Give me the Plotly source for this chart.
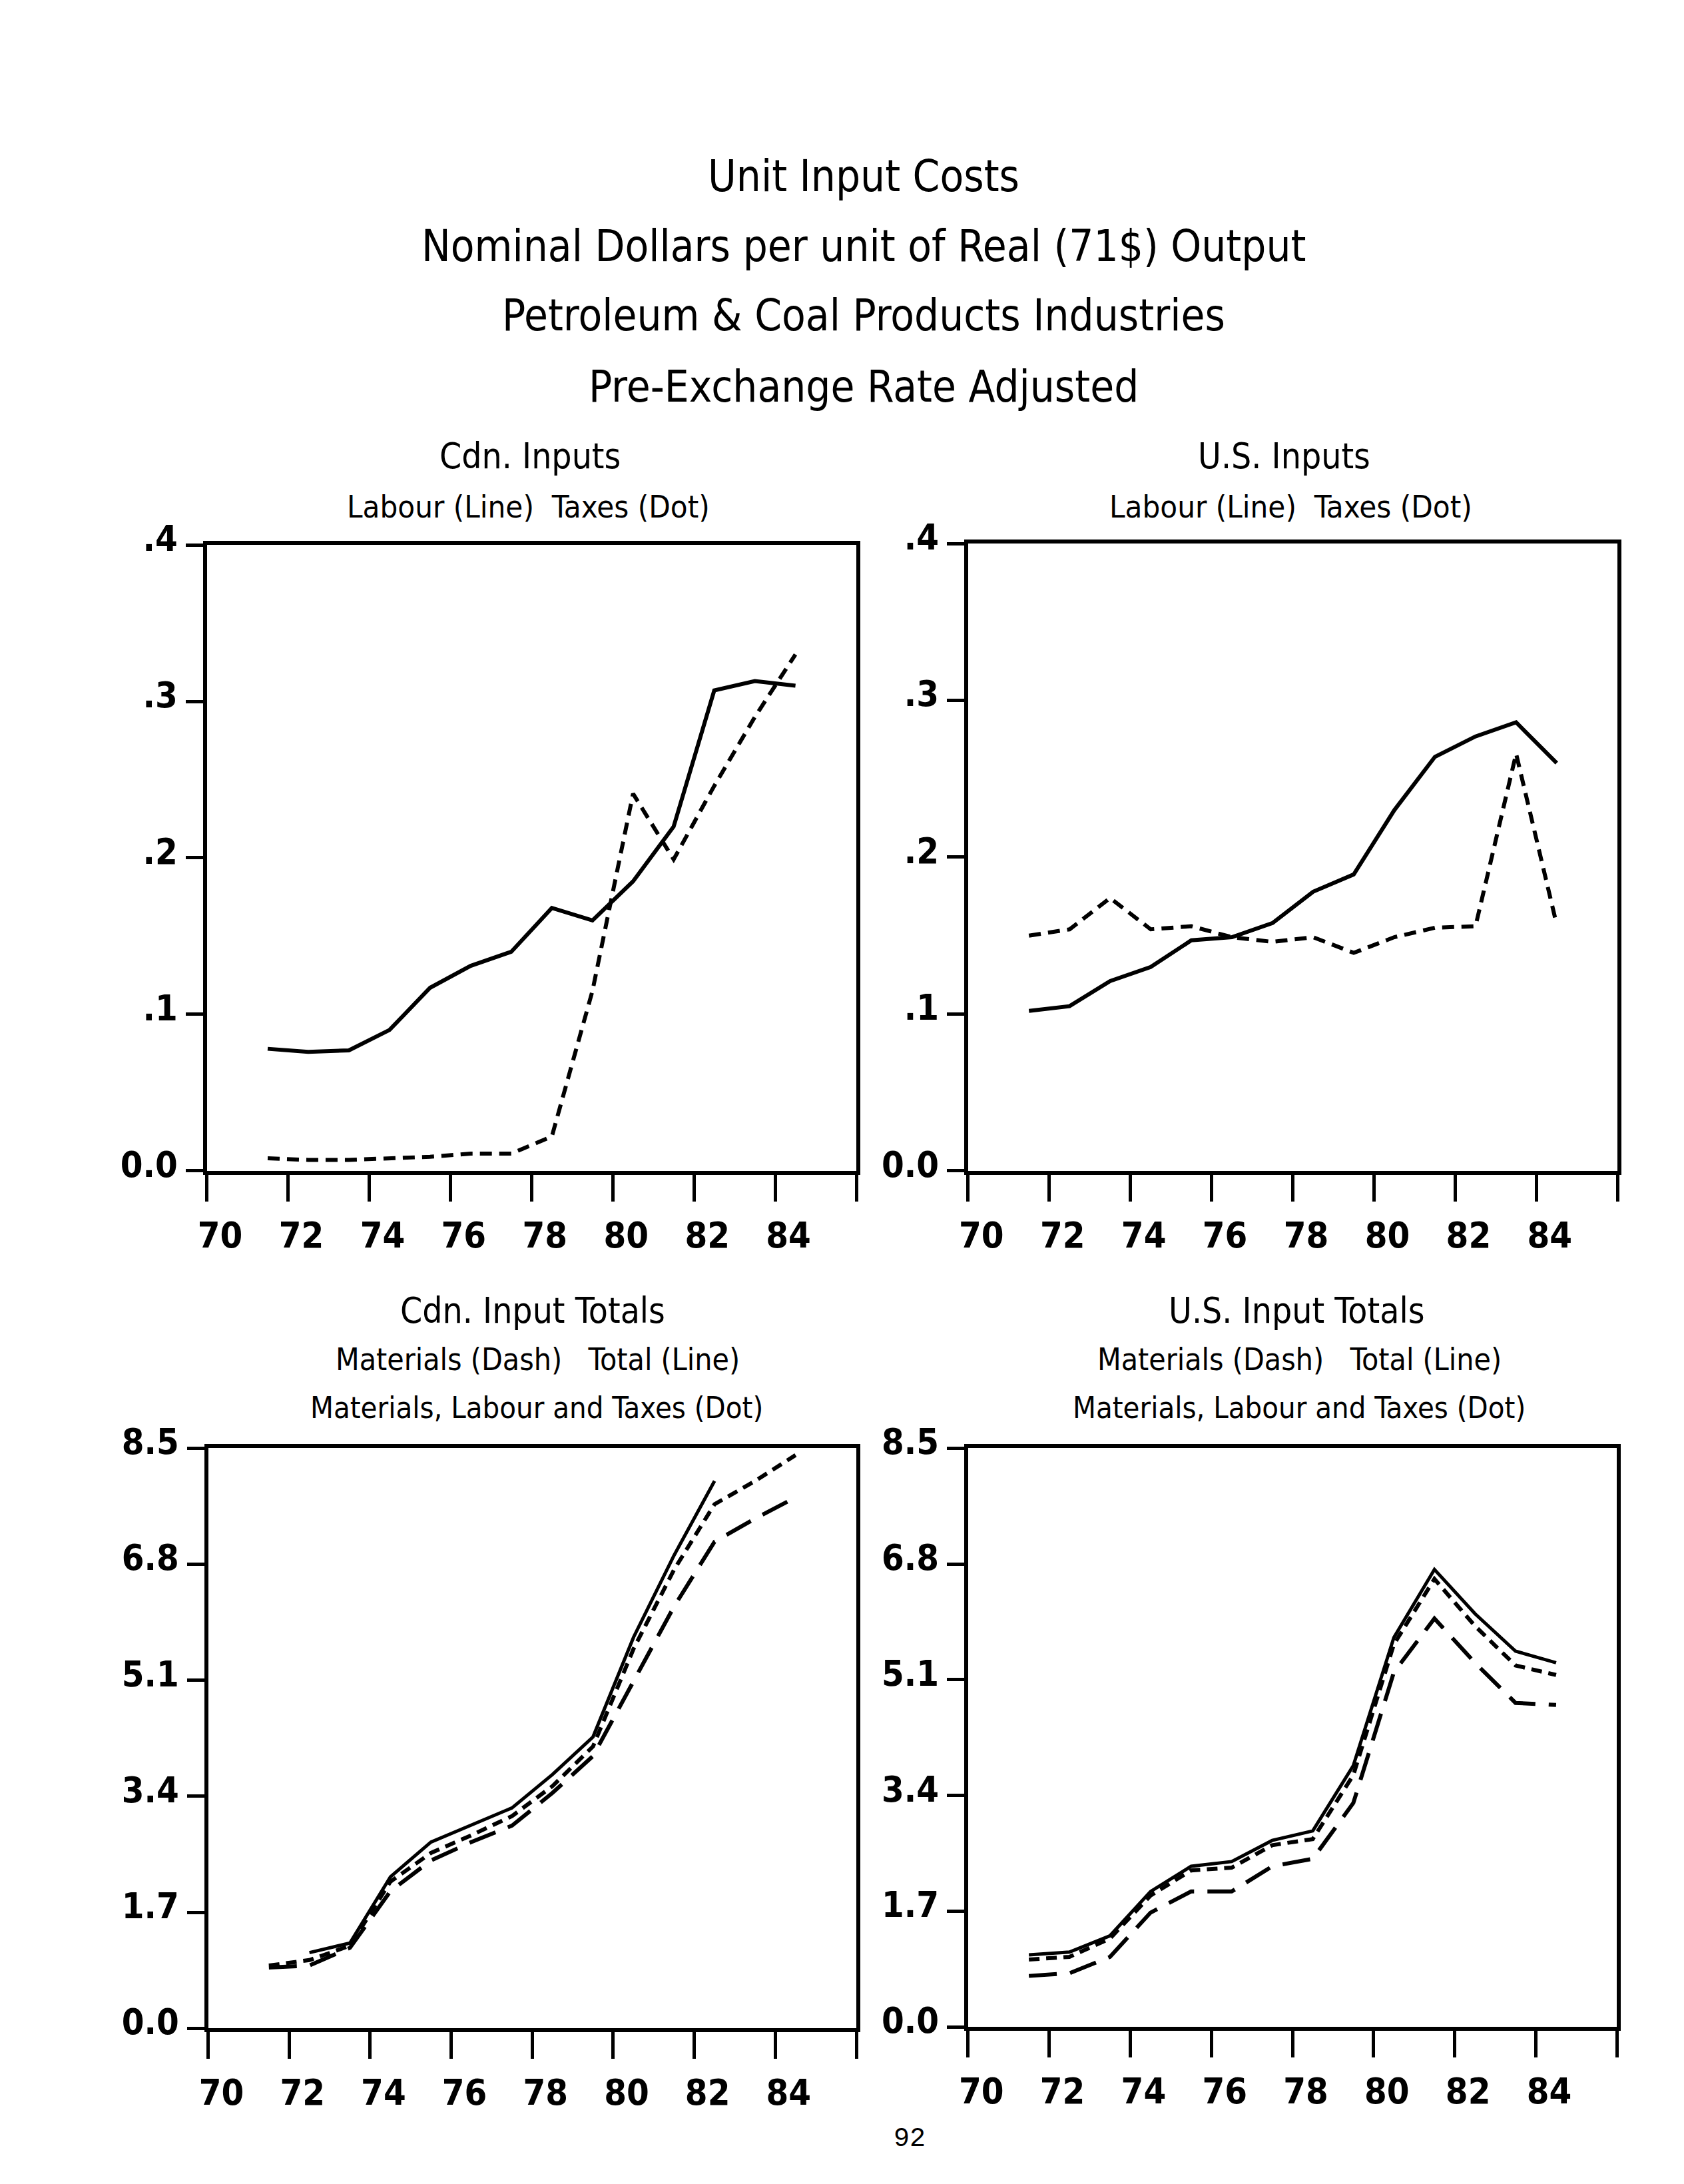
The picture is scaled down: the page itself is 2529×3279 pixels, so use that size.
import plotly.graph_objects as go

# ---------------- data ----------------
years = [1971, 1972, 1973, 1974, 1975, 1976, 1977, 1978, 1979, 1980, 1981, 1982, 1983, 1984]

cdn_labour = [0.078, 0.076, 0.077, 0.090, 0.117, 0.131, 0.140, 0.168, 0.160, 0.185, 0.220, 0.307, 0.313, 0.310]
cdn_taxes = [0.008, 0.007, 0.007, 0.008, 0.009, 0.011, 0.011, 0.022, 0.115, 0.241, 0.199, 0.246, 0.290, 0.330]

us_labour = [0.102, 0.105, 0.121, 0.130, 0.147, 0.149, 0.158, 0.178, 0.189, 0.230, 0.264, 0.277, 0.286, 0.260]
us_taxes = [0.150, 0.154, 0.174, 0.154, 0.156, 0.149, 0.146, 0.149, 0.139, 0.149, 0.155, 0.156, 0.266, 0.157]

cdn_total = [None, 1.11, 1.25, 2.22, 2.73, 2.98, 3.23, 3.72, 4.27, 5.73, 6.93, 8.02, None, None]
cdn_mlt = [0.92, 1.00, 1.21, 2.15, 2.57, 2.83, 3.11, 3.55, 4.13, 5.56, 6.72, 7.68, 8.02, 8.40]
cdn_materials = [0.89, 0.92, 1.18, 2.01, 2.46, 2.73, 2.97, 3.45, 3.99, 5.09, 6.18, 7.13, 7.47, 7.78]

us_total = [1.06, 1.10, 1.34, 1.99, 2.36, 2.43, 2.74, 2.88, 3.84, 5.72, 6.72, 6.07, 5.52, 5.35]
us_mlt = [0.99, 1.03, 1.30, 1.93, 2.30, 2.34, 2.67, 2.76, 3.70, 5.62, 6.58, 5.89, 5.31, 5.17]
us_materials = [0.75, 0.79, 1.03, 1.68, 1.99, 1.99, 2.36, 2.47, 3.29, 5.21, 6.00, 5.35, 4.76, 4.73]

x_tickvals = [70, 72, 74, 76, 78, 80, 82, 84, 86]
x_ticktext = ["70", "72", "74", "76", "78", "80", "82", "84", ""]
y_top_vals = [0.0, 0.1, 0.2, 0.3, 0.4]
y_top_text = ["0.0", ".1", ".2", ".3", ".4"]
y_bot_vals = [0.0, 1.7, 3.4, 5.1, 6.8, 8.5]
y_bot_text = ["0.0", "1.7", "3.4", "5.1", "6.8", "8.5"]

title_lines = ["Unit Input Costs",
               "Nominal Dollars per unit of Real (71$) Output",
               "Petroleum & Coal Products Industries",
               "Pre-Exchange Rate Adjusted"]

# plotted at mid-year (two-digit year + 0.5)
xs = [y - 1900 + 0.5 for y in years]

W, H = 2529, 3279
FONT = "Liberation Sans Narrow, DejaVu Sans Condensed, Roboto Condensed, Arial Narrow, sans-serif"
BLACK = "black"

# page-pixel -> paper fraction (with small correction for how the page is photographed)
def px(p):
    return ((p - 20) / 0.996) / W

def py(p):
    return 1 - ((p - 35) / 0.982) / H

fig = go.Figure()

def line(x, y, xa, ya, dash, width=6):
    fig.add_trace(go.Scatter(x=x, y=y, xaxis=xa, yaxis=ya, mode="lines",
                             line=dict(color=BLACK, width=width, dash=dash),
                             connectgaps=False, showlegend=False, hoverinfo="skip"))

short_dash = "18px,11px"
long_dash = "42px,20px"

line(xs, cdn_labour, "x", "y", "solid")
line(xs, cdn_taxes, "x", "y", short_dash)
line(xs, us_labour, "x2", "y2", "solid")
line(xs, us_taxes, "x2", "y2", short_dash)
line(xs, cdn_total, "x3", "y3", "solid", 5)
line(xs, cdn_mlt, "x3", "y3", "16px,10px")
line(xs, cdn_materials, "x3", "y3", long_dash)
line(xs, us_total, "x4", "y4", "solid", 5)
line(xs, us_mlt, "x4", "y4", "16px,10px")
line(xs, us_materials, "x4", "y4", long_dash)

xdoms = {1: [px(309), px(1286)], 2: [px(1454), px(2431)],
         3: [px(311), px(1286)], 4: [px(1454), px(2430)]}
ydoms = {1: [py(1746), py(805)], 2: [py(1746), py(803)],
         3: [py(3035), py(2163)], 4: [py(3033), py(2163)]}

tickfont = dict(family=FONT, size=54, color=BLACK, weight="bold")
layout = {}
for i in range(1, 5):
    sx = "" if i == 1 else str(i)
    top = i <= 2
    layout["xaxis" + sx] = dict(
        domain=xdoms[i], anchor="y" + sx, range=[70, 86],
        tickmode="array", tickvals=x_tickvals, ticktext=x_ticktext,
        ticks="outside", ticklen=40, tickwidth=5, tickcolor=BLACK,
        showline=True, linewidth=6, linecolor=BLACK, mirror=True,
        showgrid=False, zeroline=False, tickfont=tickfont,
        ticklabelshift=20, ticklabelstandoff=4)
    layout["yaxis" + sx] = dict(
        domain=ydoms[i], anchor="x" + sx,
        range=[0, 0.4] if top else [0, 8.5],
        tickmode="array",
        tickvals=y_top_vals if top else y_bot_vals,
        ticktext=y_top_text if top else y_bot_text,
        ticks="outside", ticklen=26, tickwidth=5, tickcolor=BLACK,
        showline=True, linewidth=6, linecolor=BLACK, mirror=True,
        showgrid=False, zeroline=False, tickfont=tickfont,
        ticklabelstandoff=1, ticklabelshift=-10)
    # companion axis giving the inward half of the crossing x ticks
    layout["xaxis" + str(i + 4)] = dict(
        domain=xdoms[i], anchor="y" + sx, overlaying="x" + sx, range=[70, 86],
        tickmode="array", tickvals=x_tickvals, showticklabels=False,
        ticks="inside", ticklen=24, tickwidth=5, tickcolor=BLACK,
        showline=False, showgrid=False, zeroline=False)

anns = []
def txt(s, x, y, size, family=FONT):
    anns.append(dict(text=s, x=px(x), y=py(y), xref="paper", yref="paper",
                     xanchor="center", yanchor="middle", showarrow=False,
                     font=dict(family=family, size=size, color=BLACK)))

for s, yy in zip(title_lines, [251, 356, 460, 567]):
    txt(s, 1297, yy, 65)

NB = "\u00a0"
txt("Cdn. Inputs", 795, 671, 53)
txt("Labour (Line)" + NB * 2 + "Taxes (Dot)", 793, 747, 47)
txt("U.S. Inputs", 1929, 671, 53)
txt("Labour (Line)" + NB * 2 + "Taxes (Dot)", 1939, 747, 47)
txt("Cdn. Input Totals", 799, 1956, 53)
txt("Materials (Dash)" + NB * 3 + "Total (Line)", 807, 2029, 46)
txt("Materials, Labour and Taxes (Dot)", 805, 2102, 45)
txt("U.S. Input Totals", 1948, 1956, 53)
txt("Materials (Dash)" + NB * 3 + "Total (Line)", 1952, 2029, 46)
txt("Materials, Labour and Taxes (Dot)", 1952, 2102, 45)
txt("92", 1366, 3201, 40, "Liberation Mono, DejaVu Sans Mono, monospace")

fig.update_layout(width=W, height=H, margin=dict(l=0, r=0, t=0, b=0),
                  paper_bgcolor="white", plot_bgcolor="white",
                  annotations=anns, showlegend=False, **layout)

fig.write_html("out.html")
